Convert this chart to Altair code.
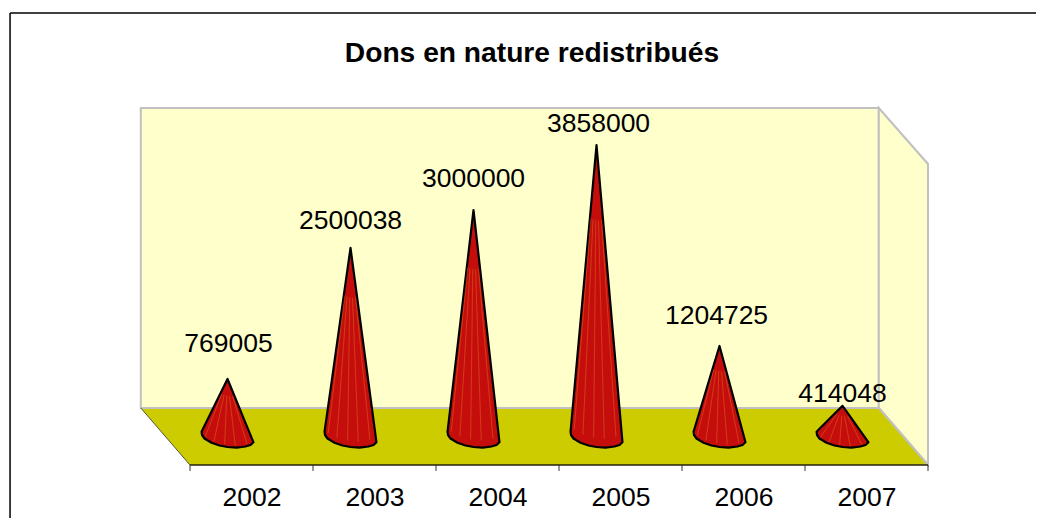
import altair as alt
import numpy as np
import pandas as pd

years = [2002, 2003, 2004, 2005, 2006, 2007]
values = [769005, 2500038, 3000000, 3858000, 1204725, 414048]
title = "Dons en nature redistribués"

FONT = "Liberation Sans"
WALL, FLOOR, GRID, DARK = "#FFFFCC", "#CCCC00", "#C0C0C0", "#222211"
CONE, STRIPE = "#C50E0C", "#E8902A"

# the value axis of the 3D box (front plane / back plane)
V_FRONT, V_BACK, V_TOP, V_TOP_FRONT = -366300, 386150, 4346500, 3607300
DEPTH = 0.4            # depth of the box in category widths
TIP_SHIFT = 0.305      # where a cone's apex sits inside its category
V_FRAME_TOP, V_FRAME_BOTTOM = 5600700, -1171000

# outline of a cone's base, relative to the category and the zero level
base_dx = [-.211, -.207, -.187, -.13, -.065, 0, .073, .146, .187, .211]
base_v = [73270, 29700, -16500, -71950, -108900, -128700, -137960, -122100, -102300, -66670]
stripe_dx = [-.187, -.114, -.024, .065, .163]

year_labels = [str(y) for y in years]
x_scale = alt.Scale(domain=[0, 6], nice=False, zero=False)
y_scale = alt.Scale(domain=[V_FRONT, V_TOP], nice=False, zero=False)
x_axis = alt.Axis(
    values=[i + 0.5 for i in range(6)],
    labelExpr=f"{year_labels}[floor(datum.value)]",
    ticks=False, domain=False, grid=False,
    labelFont=FONT, labelFontSize=26.5, labelColor="#000000", labelPadding=19,
    labelAngle=0, labelOverlap=False, labelBaseline="top", labelFlush=False,
)
X = alt.X("x:Q", scale=x_scale, axis=x_axis, title=None)
Y = alt.Y("y:Q", scale=y_scale, axis=None, title=None)

cone_rows, stripe_rows = [], []
for i, (yr, v) in enumerate(zip(years, values)):
    tip_x = i + TIP_SHIFT
    for dx, b in zip(base_dx, base_v):
        if dx <= 0:
            t = dx / base_dx[0]
            top = v + (base_v[0] - v) * t
        else:
            t = dx / base_dx[-1]
            top = v + (base_v[-1] - v) * t
        cone_rows.append(dict(year=yr, x=tip_x + dx, y=top, y2=b))
    for k, dx in enumerate(stripe_dx):
        b = float(np.interp(dx, base_dx, base_v))
        f = 0.25
        stripe_rows.append(dict(s=f"{yr}-{k}", x=tip_x + dx * f, y=v + (b - v) * f, o=0))
        stripe_rows.append(dict(s=f"{yr}-{k}", x=tip_x + dx * 0.97, y=v + (b - v) * 0.97, o=1))

wall = alt.Chart(pd.DataFrame([dict(x=-DEPTH, x2=6 - DEPTH, y=V_BACK, y2=V_TOP)])).mark_rect(
    fill=WALL, stroke=GRID, strokeWidth=2
).encode(x=X, x2="x2:Q", y=Y, y2="y2:Q")

side = alt.Chart(pd.DataFrame([
    dict(x=6 - DEPTH, y=V_TOP, y2=V_BACK),
    dict(x=6, y=V_TOP_FRONT, y2=V_FRONT),
])).mark_area(fill=WALL, stroke=GRID, strokeWidth=2).encode(x=X, y=Y, y2="y2:Q")

floor = alt.Chart(pd.DataFrame([
    dict(x=-DEPTH, y=V_BACK, y2=V_BACK),
    dict(x=0, y=V_BACK, y2=V_FRONT),
    dict(x=6 - DEPTH, y=V_BACK, y2=V_FRONT),
    dict(x=6, y=V_FRONT, y2=V_FRONT),
])).mark_area(fill=FLOOR).encode(x=X, y=Y, y2="y2:Q")


def edge(x0, y0, x1, y1, color, width):
    return alt.Chart(pd.DataFrame([dict(x=x0, y=y0), dict(x=x1, y=y1)])).mark_line(
        color=color, strokeWidth=width, clip=False
    ).encode(x=X, y=Y)


edges = [
    edge(-DEPTH, V_BACK, 6 - DEPTH, V_BACK, GRID, 2),
    edge(6 - DEPTH, V_BACK, 6, V_FRONT, GRID, 2),
    edge(-DEPTH, V_BACK, 0, V_FRONT, "#555533", 1),
    edge(0, V_FRONT, 6, V_FRONT, DARK, 1.5),
]

ticks = alt.Chart(pd.DataFrame({"x": list(range(7)), "y": V_FRONT, "y2": V_FRONT - 79000})).mark_rule(
    color="#333333", strokeWidth=1
).encode(x=X, y=Y, y2="y2:Q")

cones = alt.Chart(pd.DataFrame(cone_rows)).mark_area(
    fill=CONE, stroke="#000000", strokeWidth=2.2, strokeJoin="round"
).encode(x=X, y=Y, y2="y2:Q", detail="year:N")

stripes = alt.Chart(pd.DataFrame(stripe_rows)).mark_line(
    color=STRIPE, strokeWidth=1, opacity=0.35
).encode(x=X, y=Y, detail="s:N", order="o:Q")

label_dy = [-35, -27, -31, -21, -30, -12]
label_dx = [1, 0, 0, 2, -3, 0]
labels = []
for i, (yr, v) in enumerate(zip(years, values)):
    labels.append(
        alt.Chart(pd.DataFrame([dict(x=i + TIP_SHIFT, y=v, t=str(v))])).mark_text(
            font=FONT, fontSize=26.5, color="#000000", baseline="middle", align="center",
            dy=label_dy[i], dx=label_dx[i],
        ).encode(x=X, y=Y, text="t:N")
    )

frame = [
    edge(-1.463, V_FRAME_TOP, 7.0, V_FRAME_TOP, "#000000", 1.5),
    edge(-1.463, V_FRAME_TOP, -1.463, V_FRAME_BOTTOM, "#000000", 1.5),
]

chart = alt.layer(
    wall, side, floor, *edges, ticks, cones, stripes, *labels, *frame
).properties(
    width=738,
    height=357,
    padding={"left": 182, "top": 100, "right": 108, "bottom": 53},
    autosize=alt.AutoSizeParams(type="none"),
    title=alt.TitleParams(
        text=title, font=FONT, fontSize=28.2, fontWeight="bold", color="#000000",
        anchor="middle", dx=-27, dy=58, offset=0,
    ),
    background="#FFFFFF",
).configure_view(stroke=None)

chart.save("out.html", embed_options={"renderer": "svg", "actions": False})
